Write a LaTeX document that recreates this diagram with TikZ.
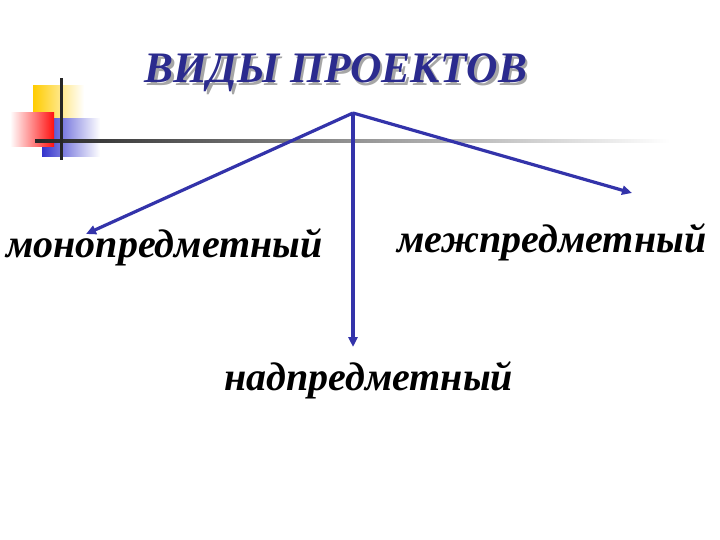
\documentclass[tikz,border=0pt]{standalone}
\usepackage{fontspec}
\setmainfont{Liberation Serif}
\usetikzlibrary{arrows.meta}
\definecolor{arrblue}{HTML}{3333AA}
\definecolor{titleblue}{HTML}{2B2B8E}
\definecolor{sqyellow}{HTML}{FFCC00}
\definecolor{sqred}{HTML}{FF1010}
\definecolor{sqblue}{HTML}{3333CC}
\newcommand{\shadowed}[1]{\makebox[0pt][l]{\hspace{2.5pt}\raisebox{-2.5pt}{\textcolor{black!35}{#1}}}\textcolor{titleblue}{#1}}
\tikzset{
  conn/.style={draw=arrblue, line width=3.2pt, -{Triangle[length=10pt,width=9pt]}},
  lbl/.style={font=\fontsize{40}{44}\selectfont\bfseries\itshape, inner sep=0pt},
}
\begin{document}
\begin{tikzpicture}[x=1pt,y=-1pt]
\useasboundingbox[fill=white] (0,0) rectangle (720,540);
% decoration
\shade[left color=sqyellow, right color=white] (33,86) rectangle (84,120);
\shade[left color=sqblue, right color=white] (42,119) rectangle (100,157);
\shade[left color=white, right color=sqred] (10,113) rectangle (54,147);
\shade[left color=black!85, right color=white] (35,139.5) rectangle (670,142.5);
\fill[black!85] (60,78) rectangle (62.5,160);
% title
\node[font=\fontsize{43.5}{47}\selectfont\bfseries\itshape, inner sep=0pt] (title) at (336,74) {\shadowed{ВИДЫ ПРОЕКТОВ}};
% labels
\node[lbl, anchor=base west] (mono) at (6,258) {монопредметный};
\node[lbl, anchor=base west] (mezh) at (397,252) {межпредметный};
\node[lbl, anchor=base west] (nad) at (224,390) {надпредметный};
% arrows
\coordinate (apex) at (353,113);
\coordinate (e1) at (86,234);
\coordinate (e2) at (632,193);
\coordinate (e3) at (353,347);
\draw[conn] (apex) -- (e1);
\draw[conn] (apex) -- (e2);
\draw[conn] (apex) -- (e3);
\end{tikzpicture}
\end{document}
